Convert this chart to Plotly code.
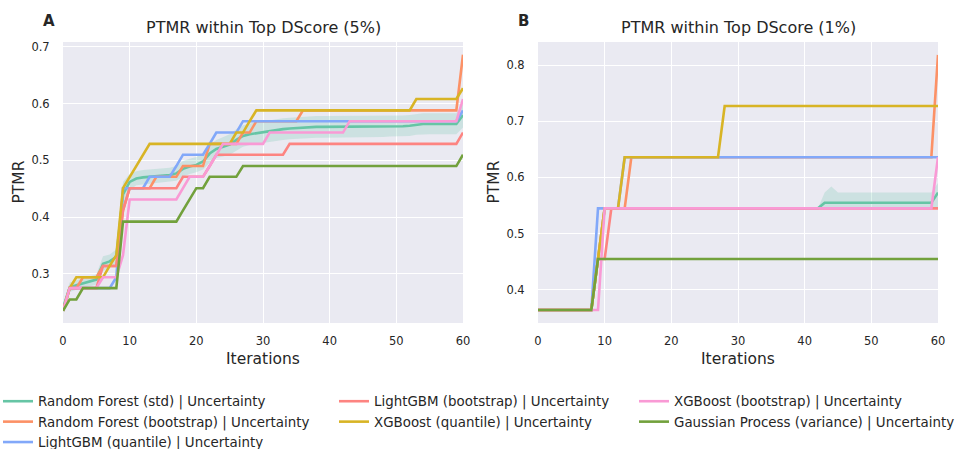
import plotly.graph_objects as go

ITER = list(range(61))

SERIES = [
    "Random Forest (std) | Uncertainty",
    "Random Forest (bootstrap) | Uncertainty",
    "LightGBM (quantile) | Uncertainty",
    "LightGBM (bootstrap) | Uncertainty",
    "XGBoost (quantile) | Uncertainty",
    "XGBoost (bootstrap) | Uncertainty",
    "Gaussian Process (variance) | Uncertainty",
]
COLORS = ["#66c5a5", "#fc9166", "#82a8f9", "#fd8481", "#d8b425", "#f99ad5", "#72a13c"]

# ---------------- Panel A : Top DScore (5%) ----------------
rf_std_a = [0.240, 0.276, 0.280, 0.283, 0.287, 0.290, 0.318, 0.322, 0.330, 0.440,
            0.462, 0.468, 0.470, 0.471, 0.472, 0.473, 0.474, 0.477, 0.485, 0.489,
            0.492, 0.498, 0.512, 0.520, 0.524, 0.528, 0.536, 0.543, 0.546, 0.548,
            0.550, 0.552, 0.553, 0.555, 0.556, 0.557, 0.557, 0.558, 0.559, 0.559,
            0.559, 0.559, 0.560, 0.560, 0.560, 0.560, 0.560, 0.560, 0.560, 0.560,
            0.560, 0.560, 0.561, 0.563, 0.564, 0.564, 0.564, 0.564, 0.564, 0.564,
            0.580]
rf_std_a_lo = [0.236, 0.268, 0.272, 0.275, 0.278, 0.281, 0.305, 0.311, 0.318, 0.415,
               0.448, 0.456, 0.458, 0.459, 0.460, 0.461, 0.462, 0.464, 0.471, 0.476,
               0.479, 0.484, 0.496, 0.504, 0.507, 0.510, 0.517, 0.524, 0.527, 0.529,
               0.531, 0.533, 0.534, 0.536, 0.537, 0.538, 0.538, 0.539, 0.540, 0.540,
               0.540, 0.540, 0.541, 0.541, 0.541, 0.541, 0.541, 0.541, 0.541, 0.542,
               0.542, 0.542, 0.543, 0.545, 0.546, 0.546, 0.546, 0.546, 0.546, 0.546,
               0.558]
rf_std_a_hi = [0.245, 0.285, 0.289, 0.292, 0.296, 0.299, 0.331, 0.334, 0.343, 0.462,
               0.476, 0.481, 0.483, 0.484, 0.485, 0.486, 0.487, 0.490, 0.499, 0.503,
               0.506, 0.513, 0.528, 0.536, 0.541, 0.546, 0.555, 0.562, 0.565, 0.567,
               0.569, 0.571, 0.572, 0.574, 0.575, 0.576, 0.576, 0.577, 0.578, 0.578,
               0.578, 0.578, 0.579, 0.579, 0.579, 0.579, 0.579, 0.579, 0.579, 0.579,
               0.579, 0.579, 0.580, 0.582, 0.583, 0.583, 0.583, 0.583, 0.583, 0.583,
               0.600]
rf_boot_a = [0.235, 0.275, 0.275, 0.294, 0.294, 0.294, 0.314, 0.314, 0.314, 0.412,
             0.451, 0.451, 0.451, 0.451, 0.471, 0.471, 0.471, 0.471, 0.490, 0.490,
             0.490, 0.490, 0.529, 0.529, 0.529, 0.529, 0.529, 0.549, 0.549, 0.569,
             0.569, 0.569, 0.569, 0.569, 0.569, 0.569, 0.588, 0.588, 0.588, 0.588,
             0.588, 0.588, 0.588, 0.588, 0.588, 0.588, 0.588, 0.588, 0.588, 0.588,
             0.588, 0.588, 0.588, 0.588, 0.588, 0.588, 0.588, 0.588, 0.588, 0.588,
             0.686]
lgbm_q_a = [0.235, 0.275, 0.275, 0.275, 0.275, 0.275, 0.275, 0.275, 0.294, 0.451,
            0.451, 0.451, 0.451, 0.471, 0.471, 0.471, 0.471, 0.490, 0.510, 0.510,
            0.510, 0.510, 0.529, 0.549, 0.549, 0.549, 0.549, 0.569, 0.569, 0.569,
            0.569, 0.569, 0.569, 0.569, 0.569, 0.569, 0.569, 0.569, 0.569, 0.569,
            0.569, 0.569, 0.569, 0.569, 0.569, 0.569, 0.569, 0.569, 0.569, 0.569,
            0.569, 0.569, 0.569, 0.569, 0.569, 0.569, 0.569, 0.569, 0.569, 0.569,
            0.588]
lgbm_boot_a = [0.235, 0.275, 0.275, 0.275, 0.275, 0.275, 0.314, 0.314, 0.314, 0.412,
               0.451, 0.451, 0.451, 0.451, 0.451, 0.451, 0.451, 0.451, 0.471, 0.471,
               0.471, 0.471, 0.490, 0.510, 0.510, 0.510, 0.510, 0.510, 0.510, 0.510,
               0.510, 0.510, 0.510, 0.510, 0.529, 0.529, 0.529, 0.529, 0.529, 0.529,
               0.529, 0.529, 0.529, 0.529, 0.529, 0.529, 0.529, 0.529, 0.529, 0.529,
               0.529, 0.529, 0.529, 0.529, 0.529, 0.529, 0.529, 0.529, 0.529, 0.529,
               0.549]
xgb_q_a = [0.235, 0.275, 0.294, 0.294, 0.294, 0.294, 0.294, 0.314, 0.333, 0.451,
           0.471, 0.490, 0.510, 0.529, 0.529, 0.529, 0.529, 0.529, 0.529, 0.529,
           0.529, 0.529, 0.529, 0.529, 0.529, 0.529, 0.549, 0.549, 0.569, 0.588,
           0.588, 0.588, 0.588, 0.588, 0.588, 0.588, 0.588, 0.588, 0.588, 0.588,
           0.588, 0.588, 0.588, 0.588, 0.588, 0.588, 0.588, 0.588, 0.588, 0.588,
           0.588, 0.588, 0.588, 0.608, 0.608, 0.608, 0.608, 0.608, 0.608, 0.608,
           0.627]
xgb_boot_a = [0.235, 0.275, 0.275, 0.275, 0.275, 0.275, 0.294, 0.294, 0.294, 0.333,
              0.431, 0.431, 0.431, 0.431, 0.431, 0.431, 0.431, 0.431, 0.451, 0.471,
              0.471, 0.471, 0.490, 0.510, 0.529, 0.529, 0.529, 0.529, 0.529, 0.529,
              0.529, 0.549, 0.549, 0.549, 0.549, 0.549, 0.549, 0.549, 0.549, 0.549,
              0.549, 0.549, 0.549, 0.569, 0.569, 0.569, 0.569, 0.569, 0.569, 0.569,
              0.569, 0.569, 0.569, 0.569, 0.569, 0.569, 0.569, 0.569, 0.569, 0.569,
              0.608]
gp_a = [0.235, 0.255, 0.255, 0.275, 0.275, 0.275, 0.275, 0.275, 0.275, 0.392,
        0.392, 0.392, 0.392, 0.392, 0.392, 0.392, 0.392, 0.392, 0.412, 0.431,
        0.451, 0.451, 0.471, 0.471, 0.471, 0.471, 0.471, 0.490, 0.490, 0.490,
        0.490, 0.490, 0.490, 0.490, 0.490, 0.490, 0.490, 0.490, 0.490, 0.490,
        0.490, 0.490, 0.490, 0.490, 0.490, 0.490, 0.490, 0.490, 0.490, 0.490,
        0.490, 0.490, 0.490, 0.490, 0.490, 0.490, 0.490, 0.490, 0.490, 0.490,
        0.510]

# ---------------- Panel B : Top DScore (1%) ----------------
rf_std_b = [0.364, 0.364, 0.364, 0.364, 0.364, 0.364, 0.364, 0.364, 0.364, 0.455,
            0.545, 0.545, 0.545, 0.545, 0.545, 0.545, 0.545, 0.545, 0.545, 0.545,
            0.545, 0.545, 0.545, 0.545, 0.545, 0.545, 0.545, 0.545, 0.545, 0.545,
            0.545, 0.545, 0.545, 0.545, 0.545, 0.545, 0.545, 0.545, 0.545, 0.545,
            0.545, 0.545, 0.545, 0.555, 0.555, 0.555, 0.555, 0.555, 0.555, 0.555,
            0.555, 0.555, 0.555, 0.555, 0.555, 0.555, 0.555, 0.555, 0.555, 0.555,
            0.573]
rf_std_b_lo = [0.364, 0.364, 0.364, 0.364, 0.364, 0.364, 0.364, 0.364, 0.364, 0.455,
               0.545, 0.545, 0.545, 0.545, 0.545, 0.545, 0.545, 0.545, 0.545, 0.545,
               0.545, 0.545, 0.545, 0.545, 0.545, 0.545, 0.545, 0.545, 0.545, 0.545,
               0.545, 0.545, 0.545, 0.545, 0.545, 0.545, 0.545, 0.545, 0.545, 0.545,
               0.545, 0.545, 0.545, 0.545, 0.545, 0.545, 0.545, 0.545, 0.545, 0.545,
               0.545, 0.545, 0.545, 0.545, 0.545, 0.545, 0.545, 0.545, 0.545, 0.545,
               0.545]
rf_std_b_hi = [0.364, 0.364, 0.364, 0.364, 0.364, 0.364, 0.364, 0.364, 0.364, 0.455,
               0.545, 0.545, 0.545, 0.545, 0.545, 0.545, 0.545, 0.545, 0.545, 0.545,
               0.545, 0.545, 0.545, 0.545, 0.545, 0.545, 0.545, 0.545, 0.545, 0.545,
               0.545, 0.545, 0.545, 0.545, 0.545, 0.545, 0.545, 0.545, 0.545, 0.545,
               0.545, 0.545, 0.545, 0.573, 0.584, 0.573, 0.573, 0.573, 0.573, 0.573,
               0.573, 0.573, 0.573, 0.573, 0.573, 0.573, 0.573, 0.573, 0.573, 0.573,
               0.590]
rf_boot_b = [0.364, 0.364, 0.364, 0.364, 0.364, 0.364, 0.364, 0.364, 0.364, 0.455,
             0.545, 0.545, 0.545, 0.545, 0.636, 0.636, 0.636, 0.636, 0.636, 0.636,
             0.636, 0.636, 0.636, 0.636, 0.636, 0.636, 0.636, 0.636, 0.636, 0.636,
             0.636, 0.636, 0.636, 0.636, 0.636, 0.636, 0.636, 0.636, 0.636, 0.636,
             0.636, 0.636, 0.636, 0.636, 0.636, 0.636, 0.636, 0.636, 0.636, 0.636,
             0.636, 0.636, 0.636, 0.636, 0.636, 0.636, 0.636, 0.636, 0.636, 0.636,
             0.818]
lgbm_q_b = [0.364, 0.364, 0.364, 0.364, 0.364, 0.364, 0.364, 0.364, 0.364, 0.545,
            0.545, 0.545, 0.545, 0.636, 0.636, 0.636, 0.636, 0.636, 0.636, 0.636,
            0.636, 0.636, 0.636, 0.636, 0.636, 0.636, 0.636, 0.636, 0.636, 0.636,
            0.636, 0.636, 0.636, 0.636, 0.636, 0.636, 0.636, 0.636, 0.636, 0.636,
            0.636, 0.636, 0.636, 0.636, 0.636, 0.636, 0.636, 0.636, 0.636, 0.636,
            0.636, 0.636, 0.636, 0.636, 0.636, 0.636, 0.636, 0.636, 0.636, 0.636,
            0.636]
lgbm_boot_b = [0.364, 0.364, 0.364, 0.364, 0.364, 0.364, 0.364, 0.364, 0.364, 0.455,
               0.455, 0.545, 0.545, 0.545, 0.545, 0.545, 0.545, 0.545, 0.545, 0.545,
               0.545, 0.545, 0.545, 0.545, 0.545, 0.545, 0.545, 0.545, 0.545, 0.545,
               0.545, 0.545, 0.545, 0.545, 0.545, 0.545, 0.545, 0.545, 0.545, 0.545,
               0.545, 0.545, 0.545, 0.545, 0.545, 0.545, 0.545, 0.545, 0.545, 0.545,
               0.545, 0.545, 0.545, 0.545, 0.545, 0.545, 0.545, 0.545, 0.545, 0.545,
               0.545]
xgb_q_b = [0.364, 0.364, 0.364, 0.364, 0.364, 0.364, 0.364, 0.364, 0.364, 0.455,
           0.545, 0.545, 0.545, 0.636, 0.636, 0.636, 0.636, 0.636, 0.636, 0.636,
           0.636, 0.636, 0.636, 0.636, 0.636, 0.636, 0.636, 0.636, 0.727, 0.727,
           0.727, 0.727, 0.727, 0.727, 0.727, 0.727, 0.727, 0.727, 0.727, 0.727,
           0.727, 0.727, 0.727, 0.727, 0.727, 0.727, 0.727, 0.727, 0.727, 0.727,
           0.727, 0.727, 0.727, 0.727, 0.727, 0.727, 0.727, 0.727, 0.727, 0.727,
           0.727]
xgb_boot_b = [0.364, 0.364, 0.364, 0.364, 0.364, 0.364, 0.364, 0.364, 0.364, 0.364,
              0.545, 0.545, 0.545, 0.545, 0.545, 0.545, 0.545, 0.545, 0.545, 0.545,
              0.545, 0.545, 0.545, 0.545, 0.545, 0.545, 0.545, 0.545, 0.545, 0.545,
              0.545, 0.545, 0.545, 0.545, 0.545, 0.545, 0.545, 0.545, 0.545, 0.545,
              0.545, 0.545, 0.545, 0.545, 0.545, 0.545, 0.545, 0.545, 0.545, 0.545,
              0.545, 0.545, 0.545, 0.545, 0.545, 0.545, 0.545, 0.545, 0.545, 0.545,
              0.636]
gp_b = [0.364, 0.364, 0.364, 0.364, 0.364, 0.364, 0.364, 0.364, 0.364, 0.455,
        0.455, 0.455, 0.455, 0.455, 0.455, 0.455, 0.455, 0.455, 0.455, 0.455,
        0.455, 0.455, 0.455, 0.455, 0.455, 0.455, 0.455, 0.455, 0.455, 0.455,
        0.455, 0.455, 0.455, 0.455, 0.455, 0.455, 0.455, 0.455, 0.455, 0.455,
        0.455, 0.455, 0.455, 0.455, 0.455, 0.455, 0.455, 0.455, 0.455, 0.455,
        0.455, 0.455, 0.455, 0.455, 0.455, 0.455, 0.455, 0.455, 0.455, 0.455,
        0.455]

PANEL_A = [rf_std_a, rf_boot_a, lgbm_q_a, lgbm_boot_a, xgb_q_a, xgb_boot_a, gp_a]
PANEL_B = [rf_std_b, rf_boot_b, lgbm_q_b, lgbm_boot_b, xgb_q_b, xgb_boot_b, gp_b]
BANDS = [("x", "y", rf_std_a_lo, rf_std_a_hi), ("x2", "y2", rf_std_b_lo, rf_std_b_hi)]
LEGEND_OF = ["legend", "legend", "legend", "legend2", "legend2", "legend3", "legend3"]

TITLE_A = "PTMR within Top DScore (5%)"
TITLE_B = "PTMR within Top DScore (1%)"
X_TICKS = [0, 10, 20, 30, 40, 50, 60]
Y_TICKS_A = [0.3, 0.4, 0.5, 0.6, 0.7]
Y_TICKS_B = [0.4, 0.5, 0.6, 0.7, 0.8]

FONT = "DejaVu Sans"
TXT = "#262626"
BAND_FILL = "rgba(102,197,165,0.22)"

fig = go.Figure()

# confidence band of the Random Forest (std) mean
for xa, ya, lo, hi in BANDS:
    fig.add_trace(go.Scatter(x=ITER, y=hi, xaxis=xa, yaxis=ya, mode="lines",
                             line=dict(width=0), showlegend=False, hoverinfo="skip"))
    fig.add_trace(go.Scatter(x=ITER, y=lo, xaxis=xa, yaxis=ya, mode="lines",
                             line=dict(width=0), fill="tonexty", fillcolor=BAND_FILL,
                             showlegend=False, hoverinfo="skip"))

for i, name in enumerate(SERIES):
    fig.add_trace(go.Scatter(x=ITER, y=PANEL_A[i], xaxis="x", yaxis="y", mode="lines",
                             name=name, legend=LEGEND_OF[i], legendgroup=name,
                             line=dict(color=COLORS[i], width=2.6)))
    fig.add_trace(go.Scatter(x=ITER, y=PANEL_B[i], xaxis="x2", yaxis="y2", mode="lines",
                             name=name, legendgroup=name, showlegend=False,
                             line=dict(color=COLORS[i], width=2.6)))

W, H = 955, 449
ML, MR, MT, MB = 63, 17, 42, 126
PW = W - ML - MR
PH = H - MT - MB


def px_x(px):
    return (px - ML) / PW


def px_y(py):
    return (H - MB - py) / PH


axis_common = dict(showgrid=True, gridcolor="white", gridwidth=1.3, zeroline=False,
                   showline=False, tickfont=dict(family=FONT, size=11.5, color=TXT),
                   ticks="outside", tickcolor="rgba(0,0,0,0)")

fig.update_layout(
    width=W, height=H, autosize=False,
    margin=dict(l=ML, r=MR, t=MT, b=MB, pad=0, autoexpand=False),
    paper_bgcolor="white", plot_bgcolor="#eaeaf2",
    font=dict(family=FONT, color=TXT),
    xaxis=dict(domain=[0, 400 / PW], range=[0, 60], tickvals=X_TICKS, ticklen=7,
               anchor="y", **axis_common),
    xaxis2=dict(domain=[(538 - ML) / PW, 1], range=[0, 60], tickvals=X_TICKS, ticklen=7,
                anchor="y2", **axis_common),
    yaxis=dict(domain=[0, 1], range=[0.2135, 0.7085], tickvals=Y_TICKS_A, ticklen=10,
               tickformat=".1f", anchor="x", **axis_common),
    yaxis2=dict(domain=[0, 1], range=[0.341, 0.841], tickvals=Y_TICKS_B, ticklen=10,
                tickformat=".1f", anchor="x2", **axis_common),
    showlegend=True,
)

leg_common = dict(xref="paper", yref="paper", xanchor="left", yanchor="top",
                  orientation="v", bgcolor="rgba(0,0,0,0)", borderwidth=0,
                  font=dict(family=FONT, size=13.4, color=TXT), tracegroupgap=0)
fig.update_layout(
    legend=dict(x=px_x(-2), y=px_y(386), **leg_common),
    legend2=dict(x=px_x(334), y=px_y(386), **leg_common),
    legend3=dict(x=px_x(634), y=px_y(386), **leg_common),
)

ann = []
for cx, title, letter, lx in [(263, TITLE_A, "A", 48.5), (738, TITLE_B, "B", 523.5)]:
    ann.append(dict(text=title, x=px_x(cx), y=px_y(28), xref="paper", yref="paper",
                    xanchor="center", yanchor="middle", showarrow=False,
                    font=dict(family=FONT, size=16, color=TXT)))
    ann.append(dict(text="<b>" + letter + "</b>", x=px_x(lx), y=px_y(20.5), xref="paper",
                    yref="paper", xanchor="center", yanchor="middle", showarrow=False,
                    font=dict(family=FONT, size=15, color=TXT)))
    ann.append(dict(text="Iterations", x=px_x(cx), y=px_y(359), xref="paper", yref="paper",
                    xanchor="center", yanchor="middle", showarrow=False,
                    font=dict(family=FONT, size=15.5, color=TXT)))
    ann.append(dict(text="PTMR", x=px_x(cx - 245), y=px_y(182.5), xref="paper", yref="paper",
                    xanchor="center", yanchor="middle", showarrow=False, textangle=-90,
                    font=dict(family=FONT, size=15.5, color=TXT)))
fig.update_layout(annotations=ann)

fig.write_html("out.html")
